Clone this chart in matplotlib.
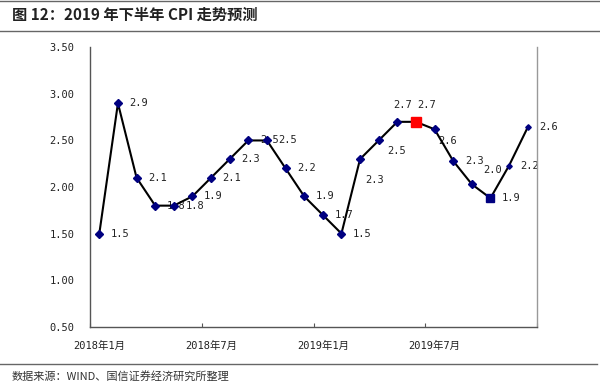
import matplotlib
matplotlib.use("Agg")
import matplotlib.pyplot as plt
from matplotlib.lines import Line2D

months = list(range(24))
xtick_labels = ["2018年1月", "2018年7月", "2019年1月", "2019年7月"]
cpi = [1.5, 2.9, 2.1, 1.8, 1.8, 1.9, 2.1, 2.3, 2.5, 2.5, 2.2, 1.9,
       1.7, 1.5, 2.3, 2.5, 2.7, 2.7, 2.62, 2.28, 2.03, 1.88, 2.23, 2.64]
point_labels = ["1.5", "2.9", "2.1", "1.8", "1.8", "1.9", "2.1", "2.3", "2.5", "2.5", "2.2", "1.9",
                "1.7", "1.5", "2.3", "2.5", "2.7", "2.7", "2.6", "2.3", "2.0", "1.9", "2.2", "2.6"]
yticks = [0.5, 1.0, 1.5, 2.0, 2.5, 3.0, 3.5]

title = "图 12：2019 年下半年 CPI 走势预测"
source = "数据来源：WIND、国信证券经济研究所整理"

mono = ["DejaVu Sans Mono", "Noto Sans CJK SC"]
cjk = ["Noto Sans CJK SC", "DejaVu Sans"]

fig = plt.figure(figsize=(6.0, 3.88), dpi=100)
ax = fig.add_axes([0.15, 0.158, 0.745, 0.72])

navy = "#000080"
ax.plot(months, cpi, color="black", lw=1.5, zorder=2)
for i, (x, y) in enumerate(zip(months, cpi)):
    if i == 17:
        ax.plot(x, y, marker="s", ms=7.8, color="#FF0000", mec="#FF0000", zorder=3)
    elif i == 21:
        ax.plot(x, y, marker="s", ms=5.4, color=navy, mec=navy, zorder=3)
    elif i >= 22:
        ax.plot(x, y, marker="D", ms=2.8, color=navy, mec=navy, zorder=3)
    else:
        ax.plot(x, y, marker="D", ms=4.2, color=navy, mec=navy, zorder=3)

offsets = {14: (15, -21), 15: (18, -11), 16: (5, 17), 17: (11, 17), 18: (13, -12), 20: (21, 14)}
for i, (x, y) in enumerate(zip(months, cpi)):
    dx, dy = offsets.get(i, (21, 0))
    ax.annotate(point_labels[i], (x, y), xytext=(dx, dy), textcoords="offset pixels",
                ha="center", va="center", fontsize=7.5, family=mono, color="#222222", zorder=1)

ax.set_xlim(-0.5, 23.5)
ax.set_ylim(0.5, 3.5)
ax.set_yticks(yticks)
ax.set_yticklabels([f"{v:.2f}" for v in yticks], family=mono, fontsize=7.5, color="#222222")
ax.tick_params(axis="y", length=0, pad=11)
ax.set_xticks([-0.5, 5.5, 11.5, 17.5, 23.5])
ax.set_xticklabels([])
ax.tick_params(axis="x", direction="in", length=3, color="#555555")
for lab, pos in zip(xtick_labels, [0, 6, 12, 18]):
    ax.text(pos, -0.07, lab, transform=ax.get_xaxis_transform(), ha="center", va="center",
            fontsize=7.5, family=mono, color="#222222")

ax.spines["top"].set_visible(False)
ax.spines["left"].set_color("#555555")
ax.spines["bottom"].set_color("#555555")
ax.spines["right"].set_color("#999999")
for s in ["left", "bottom", "right"]:
    ax.spines[s].set_linewidth(1.0)

fig.text(0.02, 1 - 15 / 388, title, fontsize=11, fontweight="bold", family=cjk,
         ha="left", va="center", color="#222222")
fig.add_artist(Line2D([0, 1], [1 - 1 / 388, 1 - 1 / 388], transform=fig.transFigure, color="#666666", lw=1))
fig.add_artist(Line2D([0, 1], [1 - 31 / 388, 1 - 31 / 388], transform=fig.transFigure, color="#666666", lw=1))
fig.add_artist(Line2D([0, 0.995], [1 - 364 / 388, 1 - 364 / 388], transform=fig.transFigure, color="#666666", lw=1))
fig.text(0.02, 1 - 376 / 388, source, fontsize=8, family=cjk, ha="left", va="center", color="#333333")

fig.savefig("out.png", dpi=100)
